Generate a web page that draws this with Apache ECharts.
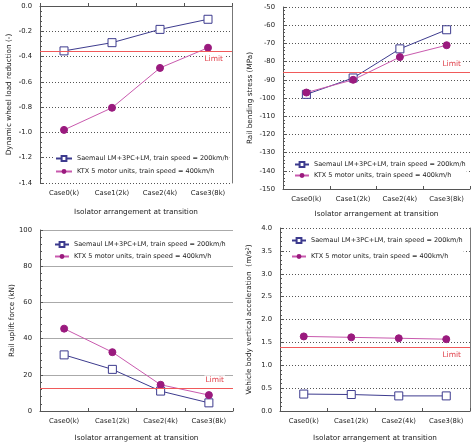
<!DOCTYPE html>
<html><head><meta charset="utf-8">
<script src="https://cdn.jsdelivr.net/npm/echarts@6/dist/echarts.min.js"></script>
<style>html,body{margin:0;padding:0;background:#fff}#c{width:475px;height:443px}</style>
</head><body><div id="c"></div>
<script>
var categories = ['Case0(k)', 'Case1(2k)', 'Case2(4k)', 'Case3(8k)'];
var seriesNames = ['Saemaul LM+3PC+LM, train speed = 200km/h', 'KTX 5 motor units, train speed = 400km/h'];
var wheelSaemaul = [-0.355, -0.29, -0.185, -0.105];
var wheelKTX = [-0.98, -0.805, -0.49, -0.33];
var stressSaemaul = [-98, -89, -73, -62.5];
var stressKTX = [-97, -90, -77.5, -71];
var upliftSaemaul = [31, 23, 11, 4.5];
var upliftKTX = [45.5, 32.5, 14.5, 8.8];
var accelSaemaul = [0.37, 0.36, 0.33, 0.33];
var accelKTX = [1.63, 1.61, 1.59, 1.57];
var limits = [-0.36, -86, 12.5, 1.4];
var yTitles = ['Dynamic wheel load reduction (-)', 'Rail bending stress (MPa)', 'Rail uplift force (kN)', 'Vehicle body vertical acceleration  (m/s{sup|2})'];
var xTitle = 'Isolator arrangement at transition';
var yRanges = [[-1.4, 0, 0.2], [-150, -50, 10], [0, 100, 20], [0, 4, 0.5]];

var FONT = 'DejaVu Sans';
var AX = '#555';
var grids = [
  {left: 40, top: 6, width: 192, height: 177},
  {left: 283, top: 7, width: 187, height: 182},
  {left: 40, top: 230, width: 193, height: 187},
  {left: 280, top: 228, width: 190, height: 188}
];
var dataSets = [[wheelSaemaul, wheelKTX], [stressSaemaul, stressKTX], [upliftSaemaul, upliftKTX], [accelSaemaul, accelKTX]];
var limitLabelPos = ['insideEndBottom', 'insideEndTop', 'insideEndTop', 'insideEndBottom'];
var legendPos = [
  {left: 54, top: 154, gap: 6, w: 16},
  {left: 293, top: 160, gap: 4, w: 14},
  {left: 53, top: 240, gap: 5, w: 14},
  {left: 290, top: 236, gap: 9, w: 14}
];
var splitStyles = [
  {color: '#555', type: [1, 2], width: 1},
  {color: '#555', type: [1, 2], width: 1},
  {color: '#aaa', type: 'solid', width: 1},
  {color: '#555', type: [1, 2], width: 1}
];
var yNameGaps = [27, 29, 23, 26];
var xNameGaps = [26, 22, 24, 24];
var decimals = [1, 0, 0, 1];

var xAxes = [], yAxes = [], series = [], legends = [];
for (var i = 0; i < 4; i++) {
  xAxes.push({
    type: 'category', gridIndex: i, data: categories, boundaryGap: true,
    axisLine: {lineStyle: {color: AX, width: 1}},
    axisTick: {show: true, inside: true, length: 3, lineStyle: {color: AX}},
    axisLabel: {fontFamily: FONT, fontSize: 6.8, color: '#222', margin: 7},
    name: xTitle, nameLocation: 'middle', nameGap: xNameGaps[i],
    nameTextStyle: {fontFamily: FONT, fontSize: 7.3, color: '#222'}
  });
  var r = yRanges[i];
  yAxes.push({
    type: 'value', gridIndex: i, min: r[0], max: r[1], interval: r[2],
    axisLine: {show: true, lineStyle: {color: AX, width: 1}},
    axisTick: {show: true, inside: true, length: 3, lineStyle: {color: AX}},
    minorTick: {show: true, splitNumber: 5, length: 2, lineStyle: {color: AX}},
    splitLine: {show: true, lineStyle: splitStyles[i]},
    axisLabel: {fontFamily: FONT, fontSize: 6.8, color: '#222', margin: 8,
      formatter: (function (d) { return function (v) { return v.toFixed(d); }; })(decimals[i])},
    name: yTitles[i], nameLocation: 'middle', nameGap: yNameGaps[i], nameRotate: 90,
    nameTextStyle: {fontFamily: FONT, fontSize: 7.3, color: '#222',
      rich: {sup: {fontFamily: FONT, fontSize: 5, verticalAlign: 'top', color: '#222', padding: [0, 0, 4, 0]}}}
  });
  series.push({
    name: seriesNames[0], type: 'line', xAxisIndex: i, yAxisIndex: i, data: dataSets[i][0],
    symbol: 'rect', symbolSize: 8, z: 3,
    lineStyle: {color: '#3d3b8e', width: 1},
    itemStyle: {color: '#fff', borderColor: '#3d3b8e', borderWidth: 1},
    markLine: {
      silent: true, symbol: 'none',
      lineStyle: {color: '#f05a5a', width: 1, type: 'solid'},
      label: {show: true, position: limitLabelPos[i], formatter: 'Limit', color: '#e0404a',
        fontFamily: FONT, fontSize: 7.5, backgroundColor: '#fff', padding: [1, 1], distance: [8, 3]},
      data: [{yAxis: limits[i]}]
    }
  });
  series.push({
    name: seriesNames[1], type: 'line', xAxisIndex: i, yAxisIndex: i, data: dataSets[i][1],
    symbol: 'circle', symbolSize: 7, z: 4,
    lineStyle: {color: '#c95aae', width: 1},
    itemStyle: {color: '#9a1a7e', borderColor: '#9a1a7e'}
  });
  legends.push({
    left: legendPos[i].left, top: legendPos[i].top, orient: 'vertical',
    data: seriesNames, itemWidth: legendPos[i].w, itemHeight: 6, itemGap: legendPos[i].gap,
    textStyle: {fontFamily: FONT, fontSize: 6.5, color: '#222'},
    backgroundColor: '#fff', selectedMode: false, padding: [1, 1]
  });
}
// right border lines for top-left and bottom-right panels
[0, 3].forEach(function (i) {
  yAxes.push({
    type: 'value', gridIndex: i, position: 'right', min: yRanges[i][0], max: yRanges[i][1],
    axisLine: {show: true, lineStyle: {color: '#777', width: 1}},
    axisTick: {show: false}, axisLabel: {show: false}, splitLine: {show: false}
  });
});

var chart = echarts.init(document.getElementById('c'), null, {renderer: 'canvas'});
chart.setOption({
  animation: false,
  backgroundColor: '#fff',
  grid: grids,
  xAxis: xAxes,
  yAxis: yAxes,
  legend: legends,
  series: series
});
</script></body></html>
